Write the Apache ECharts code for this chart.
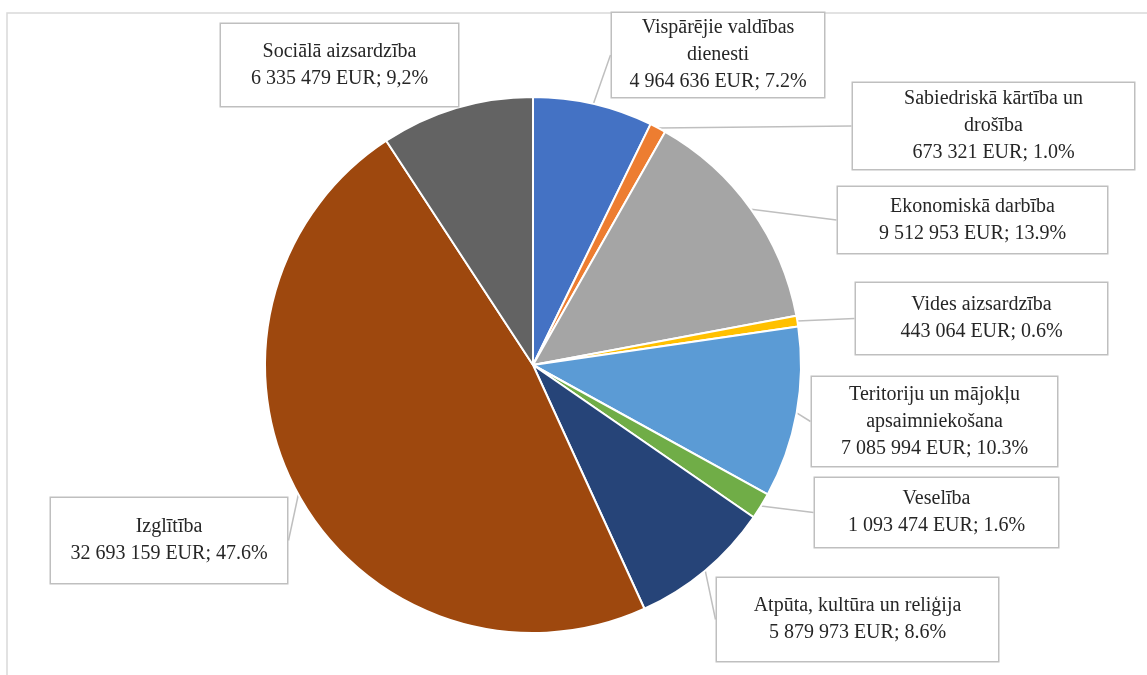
<!DOCTYPE html>
<html>
<head>
<meta charset="utf-8">
<script src="https://cdn.jsdelivr.net/npm/echarts@6/dist/echarts.min.js"></script>
<style>
  html, body { margin: 0; padding: 0; background: #fff; }
  #chart { width: 1147px; height: 675px; }
</style>
</head>
<body>
<div id="chart"></div>
<script>
// Data (clockwise from 12 o'clock)
const categories = [
  'Vispārējie valdības\ndienesti',
  'Sabiedriskā kārtība un\ndrošība',
  'Ekonomiskā darbība',
  'Vides aizsardzība',
  'Teritoriju un mājokļu\napsaimniekošana',
  'Veselība',
  'Atpūta, kultūra un reliģija',
  'Izglītība',
  'Sociālā aizsardzība'
];
const amounts = [4964636, 673321, 9512953, 443064, 7085994, 1093474, 5879973, 32693159, 6335479];
const pctLabels = ['7.2%', '1.0%', '13.9%', '0.6%', '10.3%', '1.6%', '8.6%', '47.6%', '9,2%'];

// Excel office palette
const colors = ['#4472C4', '#ED7D31', '#A5A5A5', '#FFC000', '#5B9BD5', '#70AD47', '#264478', '#9E480E', '#636363'];

// label boxes: left, top, right, bottom (px)
const boxes = [
  [612, 13, 824, 97],
  [853, 83, 1134, 169],
  [838, 187, 1107, 253],
  [856, 283, 1107, 354],
  [812, 377, 1057, 466],
  [815, 478, 1058, 547],
  [717, 578, 998, 661],
  [51, 498, 287, 583],
  [221, 24, 458, 106]
];
const lineH = 27;

function fmt(v) {
  return String(v).replace(/\B(?=(\d{3})+(?!\d))/g, ' ');
}

const pieData = amounts.map((v, i) => {
  const b = boxes[i];
  const nLines = categories[i].split('\n').length + 1;
  const pv = Math.max(0, (b[3] - b[1] - nLines * lineH) / 2);
  const item = {
    name: categories[i],
    value: v,
    itemStyle: { color: colors[i] },
    label: { width: b[2] - b[0], padding: [pv, 0, pv, 0] }
  };
  if (i === 8) item.labelLine = { show: false };
  return item;
});

const chart = echarts.init(document.getElementById('chart'));
chart.setOption({
  backgroundColor: '#fff',
  animation: false,
  graphic: [{
    type: 'rect',
    shape: { x: 7, y: 13, width: 1200, height: 700 },
    style: { fill: 'none', stroke: '#d9d9d9', lineWidth: 1.5 },
    silent: true
  }],
  series: [{
    type: 'pie',
    center: [533, 365],
    radius: 268,
    startAngle: 90,
    clockwise: true,
    avoidLabelOverlap: false,
    itemStyle: { borderColor: '#fff', borderWidth: 2 },
    label: {
      show: true,
      position: 'outside',
      fontFamily: 'Liberation Serif',
      fontSize: 20,
      lineHeight: lineH,
      color: '#262626',
      align: 'center',
      backgroundColor: '#fff',
      borderColor: '#bfbfbf',
      borderWidth: 1.5,
      formatter: p => p.name + '\n' + fmt(p.value) + ' EUR; ' + pctLabels[p.dataIndex]
    },
    labelLine: {
      show: true,
      length: 10,
      length2: 0,
      lineStyle: { color: '#bfbfbf', width: 1.5 }
    },
    labelLayout: function (params) {
      const b = boxes[params.dataIndex];
      return {
        x: (b[0] + b[2]) / 2,
        y: (b[1] + b[3]) / 2,
        align: 'center',
        verticalAlign: 'middle'
      };
    },
    emphasis: { disabled: true },
    data: pieData
  }]
});
</script>
</body>
</html>
